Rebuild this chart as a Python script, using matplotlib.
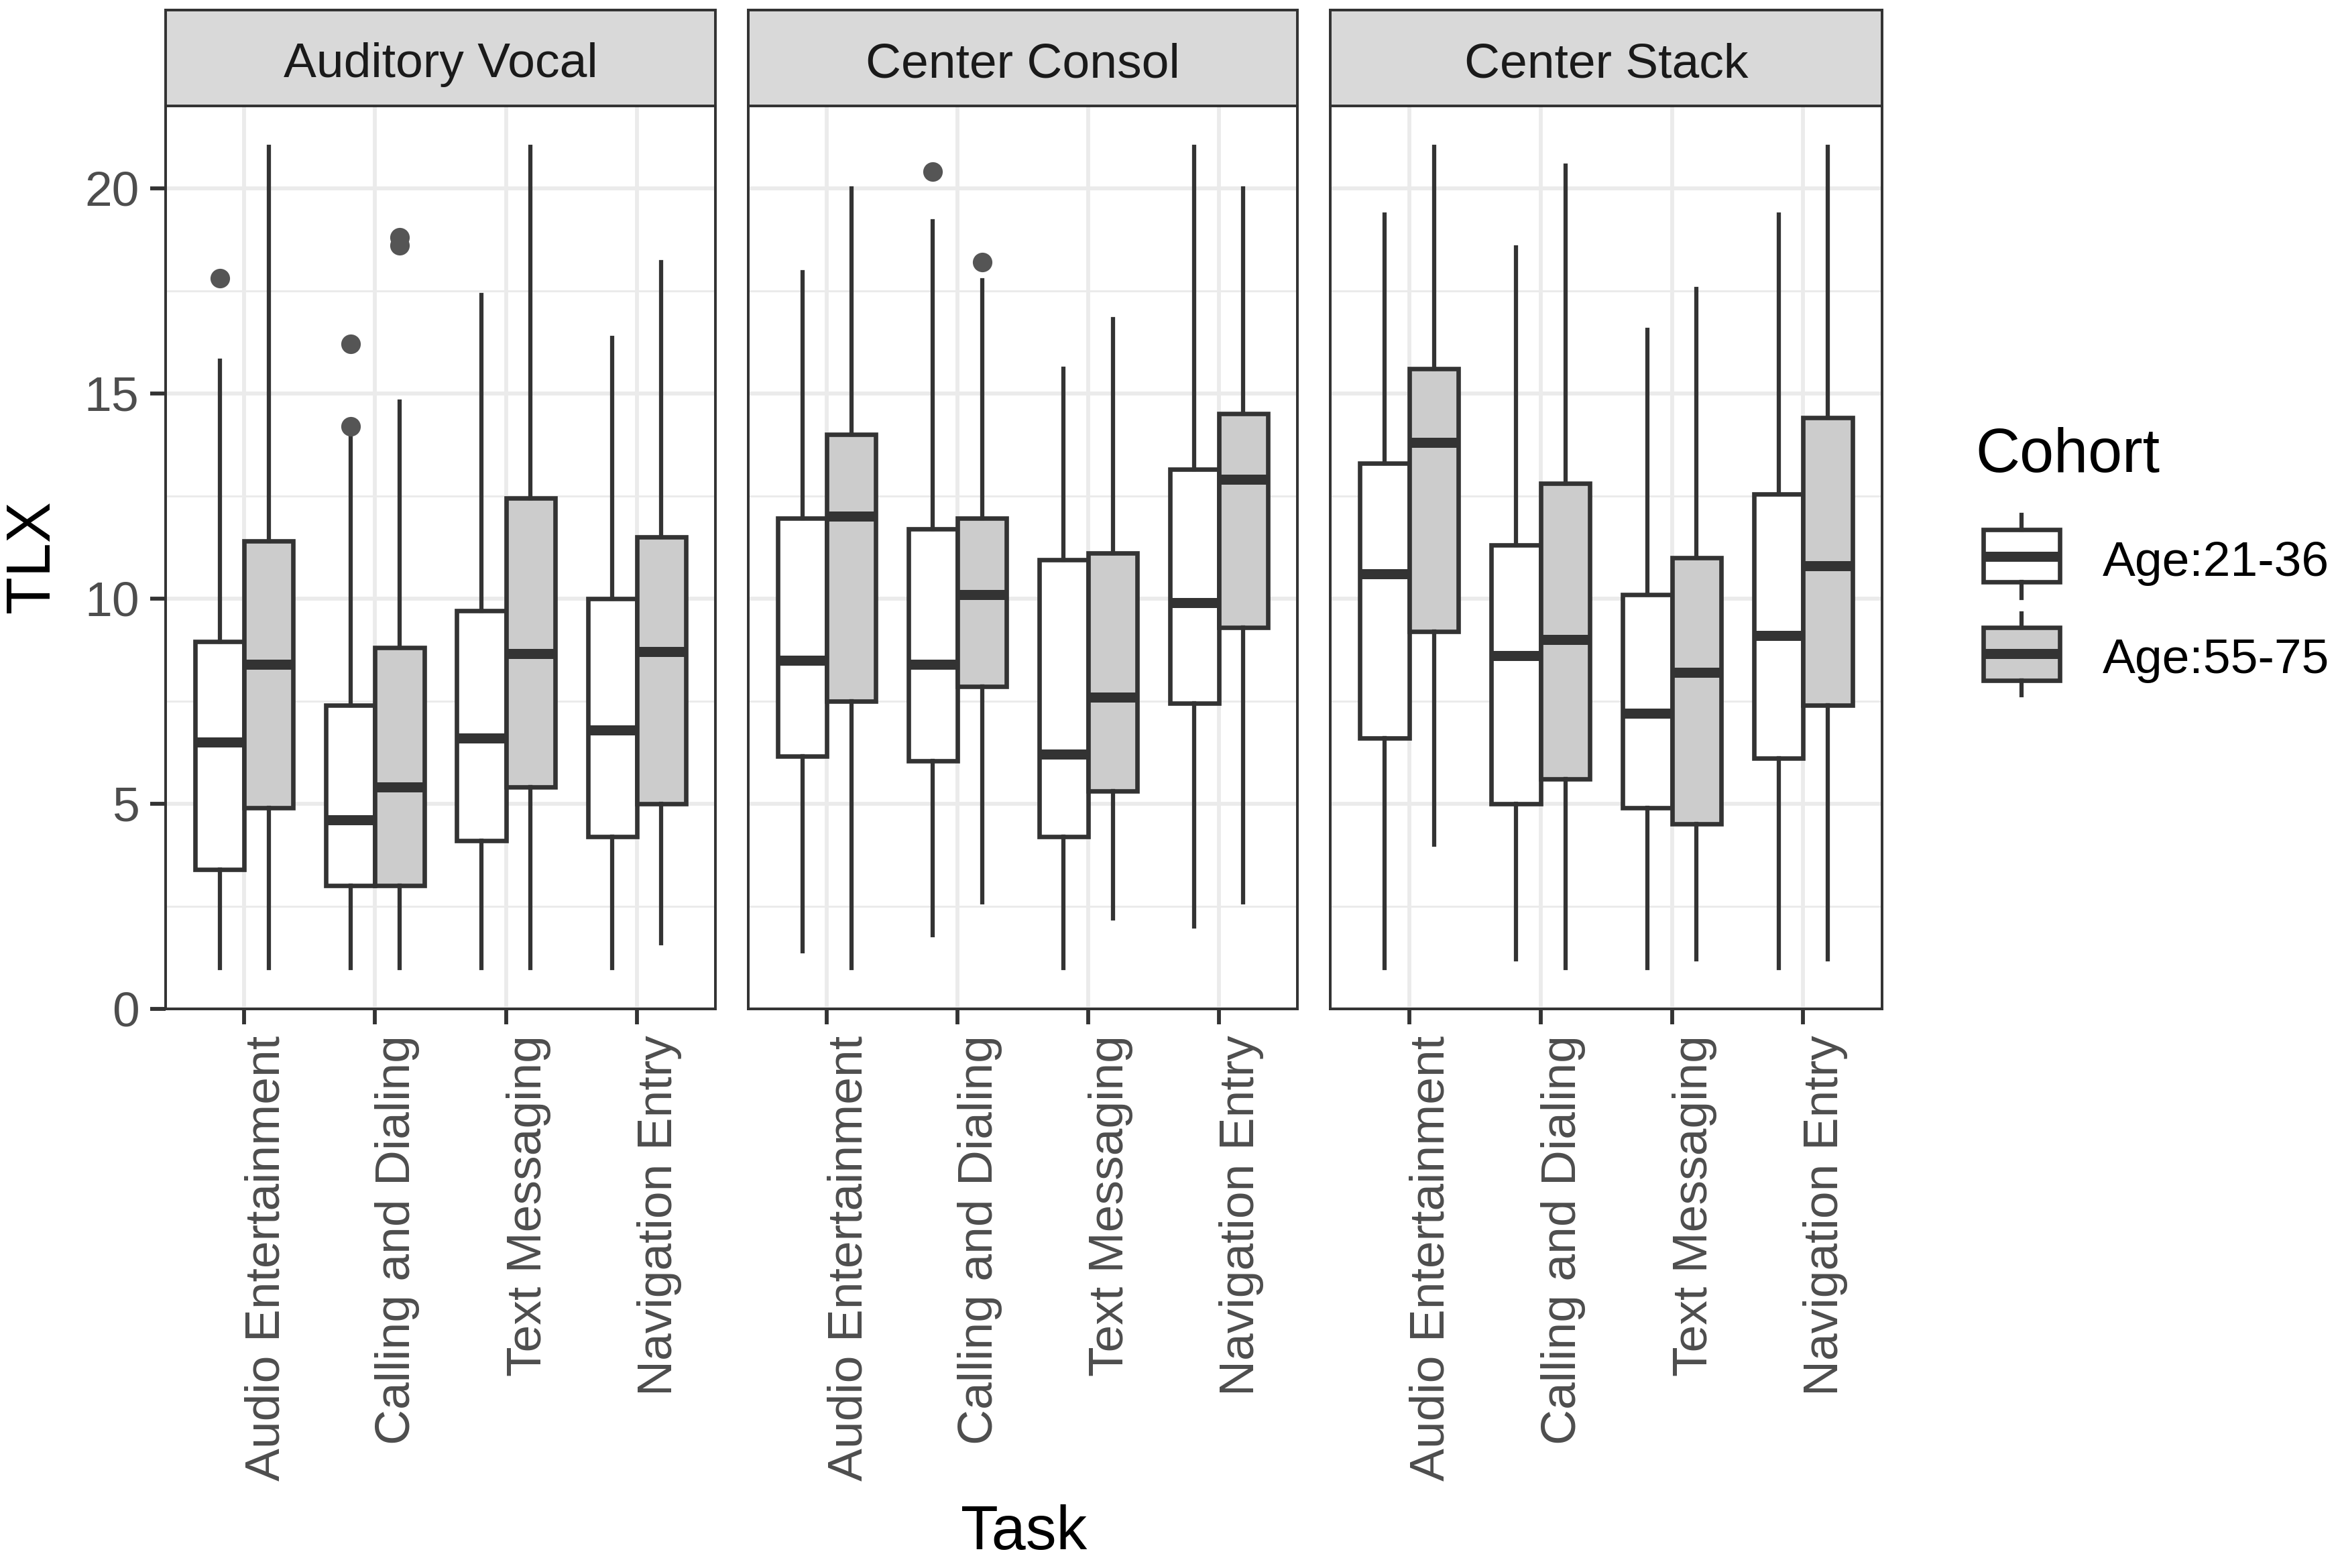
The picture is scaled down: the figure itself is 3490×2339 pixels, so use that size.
import numpy as np
import matplotlib.pyplot as plt
from matplotlib.patches import Rectangle

plt.rcParams['font.family'] = ['Liberation Sans', 'DejaVu Sans']

# %% data (rows = panels, cols = tasks)
panels = ['Auditory Vocal', 'Center Consol', 'Center Stack']
tasks = ['Audio Entertainment', 'Calling and Dialing', 'Text Messaging', 'Navigation Entry']
cohorts = ['Age:21-36', 'Age:55-75']

young_low = [[1.0, 1.0, 1.0, 1.0], [1.4, 1.8, 1.0, 2.0], [1.0, 1.2, 1.0, 1.0]]
young_q1 = [[3.4, 3.0, 4.1, 4.2], [6.15, 6.05, 4.2, 7.45], [6.6, 5.0, 4.9, 6.1]]
young_med = [[6.5, 4.6, 6.6, 6.8], [8.5, 8.4, 6.2, 9.9], [10.6, 8.6, 7.2, 9.1]]
young_q3 = [[8.95, 7.4, 9.7, 10.0], [11.95, 11.7, 10.95, 13.15], [13.3, 11.3, 10.1, 12.55]]
young_high = [[15.8, 14.0, 17.4, 16.35], [17.95, 19.2, 15.6, 21.0], [19.35, 18.55, 16.55, 19.35]]

old_low = [[1.0, 1.0, 1.0, 1.6], [1.0, 2.6, 2.2, 2.6], [4.0, 1.0, 1.2, 1.2]]
old_q1 = [[4.9, 3.0, 5.4, 5.0], [7.5, 7.85, 5.3, 9.3], [9.2, 5.6, 4.5, 7.4]]
old_med = [[8.4, 5.4, 8.65, 8.7], [12.0, 10.1, 7.6, 12.9], [13.8, 9.0, 8.2, 10.8]]
old_q3 = [[11.4, 8.8, 12.45, 11.5], [14.0, 11.95, 11.1, 14.5], [15.6, 12.8, 11.0, 14.4]]
old_high = [[21.0, 14.8, 21.0, 18.2], [20.0, 17.75, 16.8, 20.0], [21.0, 20.55, 17.55, 21.0]]

# outliers: (panel, task, cohort, value)
outliers = [
    (0, 0, 0, 17.8),
    (0, 1, 0, 16.2), (0, 1, 0, 14.2),
    (0, 1, 1, 18.8), (0, 1, 1, 18.6),
    (1, 1, 0, 20.4),
    (1, 1, 1, 18.2),
]

stats_by_cohort = [
    (young_low, young_q1, young_med, young_q3, young_high),
    (old_low, old_q1, old_med, old_q3, old_high),
]

# %% styling
edge = '#333333'
fills = ['#FFFFFF', '#CCCCCC']
grid_col = '#EBEBEB'
offsets = [-0.1875, 0.1875]
box_lw, med_lw = 1.6, 3.6

fig = plt.figure(figsize=(3490 / 300, 2339 / 300), dpi=300)

panel_x = [(0.0708, 0.3057), (0.3198, 0.5544), (0.5686, 0.8043)]
bottom, top, strip_top = 0.3566, 0.9324, 0.9935

for p, (x0, x1) in enumerate(panel_x):
    ax = fig.add_axes([x0, bottom, x1 - x0, top - bottom])
    ax.set_axisbelow(True)
    pos = np.arange(1, len(tasks) + 1)

    for k in range(len(cohorts)):
        low, q1, med, q3, high = stats_by_cohort[k]
        stats = []
        for t in range(len(tasks)):
            fl = [v for (pp, tt, kk, v) in outliers if pp == p and tt == t and kk == k]
            stats.append(dict(whislo=low[p][t], q1=q1[p][t], med=med[p][t],
                              q3=q3[p][t], whishi=high[p][t], fliers=fl))
        ax.bxp(stats, positions=pos + offsets[k], widths=0.375, patch_artist=True,
               showcaps=False, manage_ticks=False,
               boxprops=dict(facecolor=fills[k], edgecolor=edge, linewidth=box_lw),
               medianprops=dict(color=edge, linewidth=med_lw, solid_capstyle='butt'),
               whiskerprops=dict(color=edge, linewidth=1.5),
               flierprops=dict(marker='o', markerfacecolor='#555555',
                               markeredgecolor='none', markersize=7))

    ax.set_xlim(0.4, 4.6)
    ax.set_ylim(0, 22)
    ax.set_xticks(pos)
    ax.set_xticklabels(tasks, rotation=90, ha='left', va='top')
    ax.set_yticks([0, 5, 10, 15, 20])
    ax.set_yticks([2.5, 7.5, 12.5, 17.5], minor=True)
    ax.grid(which='major', color=grid_col, linewidth=1.4)
    ax.grid(which='minor', axis='y', color=grid_col, linewidth=0.7)
    ax.tick_params(which='major', direction='out', length=5.5, width=1.4, color=edge,
                   labelsize=17.6, labelcolor='#4D4D4D', pad=4)
    ax.tick_params(which='minor', length=0)
    if p > 0:
        ax.tick_params(axis='y', length=0, labelleft=False)
    for s in ax.spines.values():
        s.set_color(edge)
        s.set_linewidth(0.95)

    # facet strip
    sax = fig.add_axes([x0, top, x1 - x0, strip_top - top])
    sax.set_facecolor('#D9D9D9')
    sax.set_xticks([])
    sax.set_yticks([])
    for s in sax.spines.values():
        s.set_color(edge)
        s.set_linewidth(0.95)
    sax.text(0.5, 0.30, panels[p], ha='center', va='baseline', fontsize=17.6,
             color='#1A1A1A', transform=sax.transAxes)

# axis titles
fig.text(0.014, 0.645, 'TLX', rotation=90, ha='center', va='center', fontsize=22)
fig.text(0.4376, 0.012, 'Task', ha='center', va='baseline', fontsize=22)

# legend drawn in pixel coordinates
lax = fig.add_axes([0, 0, 1, 1], facecolor='none')
lax.set_xlim(0, 3490)
lax.set_ylim(2339, 0)
lax.axis('off')
lax.text(2946, 704, 'Cohort', ha='left', va='baseline', fontsize=22)
key_y = [(768, 790, 830, 868, 892), (915, 936, 975, 1015, 1037)]
label_base = [859, 1004]
for k in range(len(cohorts)):
    wt, bt, md, bb, wb = key_y[k]
    lax.add_patch(Rectangle((2958, bt), 114, bb - bt, facecolor=fills[k],
                            edgecolor=edge, linewidth=box_lw))
    lax.plot([2958, 3072], [md, md], color=edge, linewidth=med_lw, solid_capstyle='butt')
    lax.plot([3015, 3015], [wt, bt], color=edge, linewidth=1.5)
    lax.plot([3015, 3015], [bb, wb], color=edge, linewidth=1.5)
    lax.text(3136, label_base[k], cohorts[k], ha='left', va='baseline', fontsize=17.6)

plt.savefig('out.png', dpi=300)
